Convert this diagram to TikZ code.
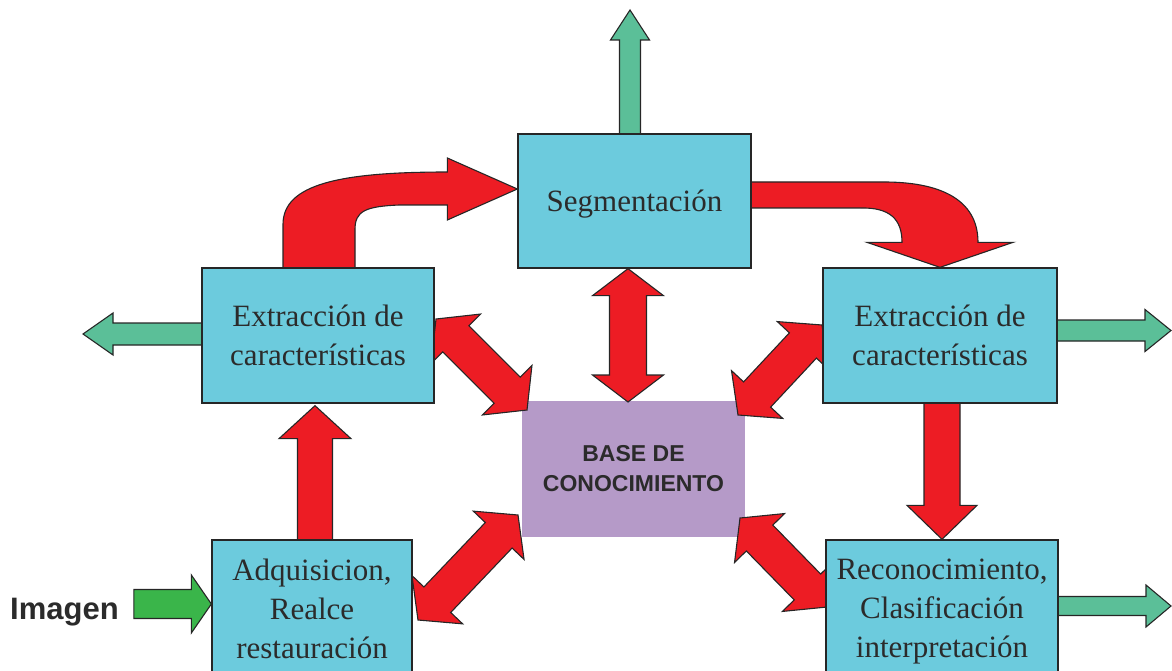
\documentclass[tikz,border=0pt]{standalone}
\usepackage{fontspec}
\setmainfont{Liberation Serif}
\newfontfamily\sansb{Liberation Sans}
\usetikzlibrary{calc}
\definecolor{boxc}{HTML}{6CCBDD}
\definecolor{redc}{HTML}{ED1C24}
\definecolor{tealc}{HTML}{5BBF98}
\definecolor{grnc}{HTML}{3AB54A}
\definecolor{purc}{HTML}{B59AC8}
\definecolor{bordc}{HTML}{262626}
\definecolor{txtc}{HTML}{2B2B2B}
\pgfdeclarelayer{bg}
\pgfsetlayers{bg,main}
% single block arrow: style, A, B, head length, head half width, shaft half width
\newcommand\sarrow[6]{%
  \path[#1] ($(#2)!#6!90:(#3)$) -- ($(#3)!#4!(#2)!#6!-90:(#2)$) -- ($(#3)!#4!(#2)!#5!-90:(#2)$)
    -- (#3) -- ($(#3)!#4!(#2)!#5!90:(#2)$) -- ($(#3)!#4!(#2)!#6!90:(#2)$) -- ($(#2)!#6!-90:(#3)$) -- cycle;}
% double block arrow
\newcommand\darrow[6]{%
  \path[#1] (#2) -- ($(#2)!#4!(#3)!#5!90:(#3)$) -- ($(#2)!#4!(#3)!#6!90:(#3)$)
    -- ($(#3)!#4!(#2)!#6!-90:(#2)$) -- ($(#3)!#4!(#2)!#5!-90:(#2)$) -- (#3)
    -- ($(#3)!#4!(#2)!#5!90:(#2)$) -- ($(#3)!#4!(#2)!#6!90:(#2)$)
    -- ($(#2)!#4!(#3)!#6!-90:(#3)$) -- ($(#2)!#4!(#3)!#5!-90:(#3)$) -- cycle;}
\tikzset{
  box/.style={draw=bordc, line width=1.3pt, fill=boxc, text=txtc, align=center, inner sep=0pt,
    font=\fontsize{31}{39}\selectfont},
  kbox/.style={fill=purc, text=txtc, align=center, inner sep=0pt,
    font=\sansb\bfseries\fontsize{23}{30}\selectfont},
  redarr/.style={draw=bordc, line width=1.1pt, fill=redc, line join=miter},
  tealarr/.style={draw=bordc, line width=1.1pt, fill=tealc, line join=miter},
  grnarr/.style={draw=bordc, line width=1.1pt, fill=grnc, line join=miter},
}
\begin{document}
\begin{tikzpicture}[x=1pt,y=-1pt]
\useasboundingbox (0,0) rectangle (1172,671);
% boxes
\node[box, minimum width=233pt, minimum height=134pt, text depth=0pt] (seg) at (634.5,201) {Segmentación};
\node[box, minimum width=232pt, minimum height=135pt] (extL) at (318,335.5) {Extracción de\\características};
\node[box, minimum width=234pt, minimum height=135pt] (extR) at (940,335.5) {Extracción de\\características};
\node[box, minimum width=200pt, minimum height=136.8pt] (adq) at (312,608.4) {Adquisicion,\\Realce\\restauración};
\node[box, minimum width=232pt, minimum height=143.5pt] (rec) at (942,611.75) {Reconocimiento,\\Clasificación\\interpretación};
\node[anchor=base west, inner sep=0pt, text=txtc, font=\sansb\bfseries\fontsize{31}{37}\selectfont] (img) at (10,619) {Imagen};
% coordinates
\coordinate (segT) at ([xshift=-4.5pt,yshift=-4pt]seg.north);
\coordinate (outT) at (630,10);
\coordinate (extLW) at ([xshift=4pt,yshift=1.5pt]extL.west);
\coordinate (outL) at (83,334);
\coordinate (extRE) at ([xshift=-4pt,yshift=5pt]extR.east);
\coordinate (outR) at (1171,330.5);
\coordinate (recE) at ([xshift=-4pt,yshift=5.75pt]rec.east);
\coordinate (outR2) at (1171,606);
\coordinate (imgB) at ([yshift=4.4pt]adq.west);
\coordinate (imgE) at ([xshift=15pt]img.east);
\coordinate (imgA) at (imgE |- imgB);
\coordinate (rd1) at ([xshift=2pt,yshift=4pt]extR.south);
\coordinate (rd2) at (rec.north);
\coordinate (up1) at ([xshift=3pt,yshift=-4pt]adq.north);
\coordinate (up2) at ([xshift=-3pt,yshift=-2pt]extL.south);
\coordinate (sb1) at ([xshift=-6.5pt]seg.south);
\coordinate (sb2) at (628,402);
\coordinate (ul1) at (436,319);
\coordinate (ul2) at (527,410);
\coordinate (ll1) at (518,515);
\coordinate (ll2) at (418,620);
\coordinate (ur1) at (822,325);
\coordinate (ur2) at (738,415);
\coordinate (lr1) at (740,518);
\coordinate (lr2) at (827,607);
\coordinate (lcS) at ([xshift=1pt,yshift=-4pt]extL.north);
\coordinate (lcT) at ([yshift=12pt]seg.west);
\coordinate (rcS) at ([xshift=-4pt,yshift=6pt]seg.east);
\coordinate (rcT) at (extR.north);
\begin{pgfonlayer}{bg}
\node[kbox, minimum width=223pt, minimum height=136pt] (base) at (633.5,469) {BASE DE\\CONOCIMIENTO};
% curved arrows
\path[redarr] ($(lcS)+(-36,0)$) -- ($(lcS)+(-36,-47)$)
  .. controls ($(lcS)+(-36,-87)$) and ($(lcT)+(-178,-17)$) .. ($(lcT)+(-70,-17)$)
  -- ($(lcT)+(-70,-31)$) -- (lcT) -- ($(lcT)+(-70,31)$) -- ($(lcT)+(-70,16)$)
  -- ($(lcT)+(-118,16)$) .. controls ($(lcS)+(46,-65)$) and ($(lcS)+(36,-60)$) .. ($(lcS)+(36,-42)$)
  -- ($(lcS)+(36,0)$) -- cycle;
\path[redarr] ($(rcS)+(0,-13)$) -- ($(rcS)+(133,-13)$)
  .. controls ($(rcT)+(0,-86)$) and ($(rcT)+(38,-68)$) .. ($(rcT)+(38,-25)$)
  -- ($(rcT)+(73,-25)$) -- (rcT) -- ($(rcT)+(-73,-25)$) -- ($(rcT)+(-38,-25)$)
  .. controls ($(rcT)+(-38,-48)$) and ($(rcT)+(-50,-60)$) .. ($(rcS)+(113,13)$)
  -- ($(rcS)+(0,13)$) -- cycle;
% straight red arrows
\sarrow{redarr}{rd1}{rd2}{34pt}{35pt}{18pt}
\sarrow{redarr}{up1}{up2}{33pt}{36pt}{17.5pt}
\darrow{redarr}{sb1}{sb2}{27pt}{35.5pt}{18.5pt}
\darrow{redarr}{ul1}{ul2}{28pt}{35pt}{18.5pt}
\darrow{redarr}{ll1}{ll2}{28pt}{35pt}{18.5pt}
\darrow{redarr}{ur1}{ur2}{28pt}{35pt}{18.5pt}
\darrow{redarr}{lr1}{lr2}{28pt}{35pt}{18.5pt}
% green outputs
\sarrow{tealarr}{segT}{outT}{30pt}{19.5pt}{10.5pt}
\sarrow{tealarr}{extLW}{outL}{30pt}{21pt}{11pt}
\sarrow{tealarr}{extRE}{outR}{26pt}{21pt}{10.5pt}
\sarrow{tealarr}{recE}{outR2}{25pt}{21pt}{9.5pt}
\sarrow{grnarr}{imgA}{imgB}{20pt}{29pt}{14.5pt}
\end{pgfonlayer}
\end{tikzpicture}
\end{document}
